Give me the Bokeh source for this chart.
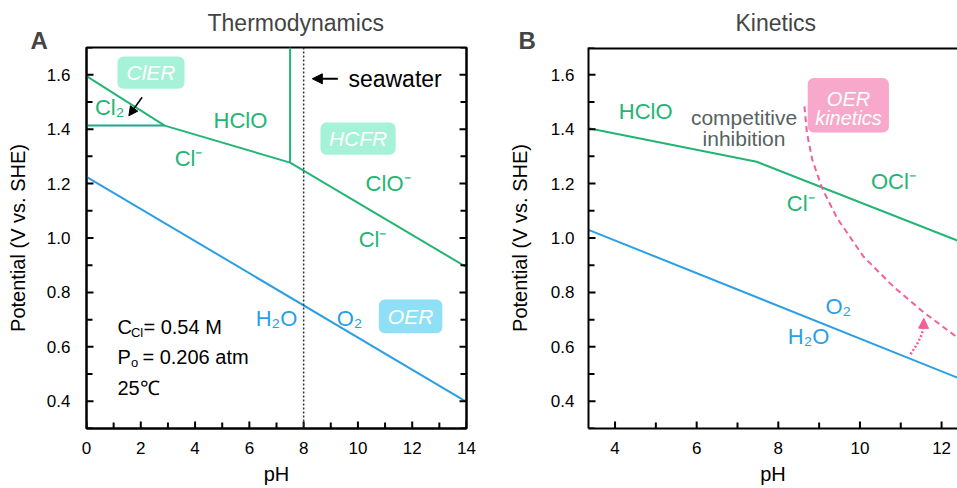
import math
from bokeh.plotting import figure
from bokeh.layouts import row
from bokeh.models import (Range1d, FixedTicker, LinearAxis, BoxAnnotation, Arrow,
                          NormalHead, Title, Span, NumeralTickFormatter)
from bokeh.core.properties import value
from bokeh.embed import file_html
from bokeh.resources import INLINE

FONT = "Liberation Sans"
GREEN = "#22b573"
TEAL = "#1fa78c"
BLUE = "#2b9fe3"
PINK = "#f2609c"
MINT = "#a6f2d8"
SKY = "#8fdff6"
ROSE = "#f8a8ca"

# ---------------- data ----------------
a_xlim = [0, 14]
b_xlim = [3.35, 12.39]
ylim = [0.3, 1.7]
y_ticks = [0.4, 0.6, 0.8, 1.0, 1.2, 1.4, 1.6]
y_minor = [0.3, 0.5, 0.7, 0.9, 1.1, 1.3, 1.5, 1.7]
a_x_ticks = [0, 2, 4, 6, 8, 10, 12, 14]
a_x_minor = [1, 3, 5, 7, 9, 11, 13]
b_x_ticks = [4, 6, 8, 10, 12]
b_x_minor = [5, 7, 9, 11]

# Panel A: Pourbaix boundaries
a_cl2_upper_ph = [0.0, 2.88]
a_cl2_upper_v = [1.595, 1.413]
a_cl2_lower_ph = [0.0, 2.88]
a_cl2_lower_v = [1.413, 1.413]
a_hclo_cl_ph = [2.88, 7.5]
a_hclo_cl_v = [1.413, 1.277]
a_hclo_clo_ph = [7.5, 7.5]
a_hclo_clo_v = [1.277, 1.70]
a_clo_cl_ph = [7.5, 14.0]
a_clo_cl_v = [1.277, 0.893]
a_o2_ph = [0.0, 14.0]
a_o2_v = [1.225, 0.398]
seawater_ph = 8.0

# Panel B
b_cl_ph = [3.35, 7.47, 12.4]
b_cl_v = [1.403, 1.28, 0.99]
b_o2_ph = [3.35, 12.4]
b_o2_v = [1.03, 0.486]
b_oer_ph = [8.64, 8.70, 8.83, 9.07, 9.44, 10.09, 10.83, 11.56, 12.39]
b_oer_v = [1.484, 1.388, 1.289, 1.184, 1.073, 0.931, 0.820, 0.727, 0.634]
b_shift_ph = [11.24, 11.40, 11.52, 11.56]
b_shift_v = [0.573, 0.610, 0.647, 0.678]

# boxes: (left, right, bottom, top, label, colour)
a_boxes = [(1.14, 3.61, 1.548, 1.667, "ClER", MINT),
           (8.62, 11.39, 1.306, 1.424, "HCFR", MINT),
           (10.77, 13.11, 0.650, 0.774, "OER", SKY)]
b_box = (8.72, 10.71, 1.388, 1.588, ROSE)


def style_axis(ax, ticks, minor, fmt, labels=True):
    ax.ticker = FixedTicker(ticks=ticks, minor_ticks=minor)
    ax.formatter = NumeralTickFormatter(format=fmt)
    ax.axis_line_width = 2
    ax.axis_line_color = "black"
    ax.major_tick_in = 0
    ax.major_tick_out = 0
    ax.minor_tick_in = 0
    ax.minor_tick_out = 0
    ax.major_label_text_font = FONT
    ax.major_label_text_font_size = "17px"
    ax.major_label_text_color = "black" if labels else None
    ax.axis_label_text_font = FONT
    ax.axis_label_text_font_size = "20px"
    ax.axis_label_text_font_style = "normal"
    ax.axis_label_text_color = "black"


def make_fig(width, xlim, xt, xm, letter, letter_offset, title, offset, left, right):
    p = figure(width=width, height=488, x_range=Range1d(*xlim), y_range=Range1d(*ylim),
               output_backend="svg", toolbar_location=None,
               min_border_left=left, min_border_right=right,
               min_border_top=47, min_border_bottom=60)
    p.title = None
    # panel letter (closest to the frame), then the panel title above it
    p.add_layout(Title(text=letter, text_font=FONT, text_font_size="24px",
                       text_font_style="bold", align="left", offset=letter_offset,
                       standoff=-12), "above")
    p.add_layout(Title(text=title, text_font=FONT, text_font_size="23px",
                       text_font_style="normal", align="left", offset=offset,
                       standoff=-11), "above")
    p.xgrid.grid_line_color = None
    p.ygrid.grid_line_color = None
    p.xaxis.axis_label = "pH"
    p.yaxis.axis_label = "Potential (V vs. SHE)"
    style_axis(p.xaxis[0], xt, xm, "0")
    style_axis(p.yaxis[0], y_ticks, y_minor, "0.0")
    p.xaxis.major_label_standoff = 13
    p.xaxis.axis_label_standoff = 6
    p.background_fill_color = "white"
    p.border_fill_color = "white"
    return p


def edge_ticks(p, x_edges, xt, xm):
    # inward-pointing ticks: dash markers centred on the frame edge (outer half is clipped)
    for x0 in x_edges:
        p.scatter(x=[x0] * len(y_ticks), y=y_ticks, marker="dash", size=14,
                  line_color="black", line_width=2)
        p.scatter(x=[x0] * len(y_minor), y=y_minor, marker="dash", size=12,
                  line_color="black", line_width=2)
    p.scatter(x=xt, y=[ylim[0]] * len(xt), marker="dash", angle=math.pi / 2, size=14,
              line_color="black", line_width=2)
    p.scatter(x=xm, y=[ylim[0]] * len(xm), marker="dash", angle=math.pi / 2, size=12,
              line_color="black", line_width=2)


def txt(p, x, y, s, color, size="22px", style="normal", align="center", xo=0, yo=0):
    p.text(x=[x], y=[y], text=[s], text_color=color, text_font=value(FONT),
           text_font_size=size, text_font_style=style, text_align=align,
           text_baseline="middle", x_offset=xo, y_offset=yo)


# ---------------- Panel A ----------------
pa = make_fig(500, a_xlim, a_x_ticks, a_x_minor, "A", -56, "Thermodynamics", 121, 86, 34)
pa.yaxis.major_label_standoff = 16
pa.yaxis.axis_label_standoff = 15
pa.outline_line_color = "black"
pa.outline_line_width = 2
ra = LinearAxis()
style_axis(ra, y_ticks, y_minor, "0.0", labels=False)
pa.add_layout(ra, "right")

for (l, r, b, t, s, c) in a_boxes:
    pa.add_layout(BoxAnnotation(left=l, right=r, bottom=b, top=t, fill_color=c,
                                fill_alpha=1, line_color=None, border_radius=6, level="underlay"))
    txt(pa, (l + r) / 2, (b + t) / 2, s, "white", size="21px", style="italic")

pa.add_layout(Span(location=seawater_ph, dimension="height", line_color="#333333",
                   line_width=1.5, line_dash="2 2"))
pa.line(a_cl2_upper_ph, a_cl2_upper_v, line_color=GREEN, line_width=2)
pa.line(a_cl2_lower_ph, a_cl2_lower_v, line_color=TEAL, line_width=2)
pa.line(a_hclo_cl_ph, a_hclo_cl_v, line_color=GREEN, line_width=2)
pa.line(a_hclo_clo_ph, a_hclo_clo_v, line_color=GREEN, line_width=2)
pa.line(a_clo_cl_ph, a_clo_cl_v, line_color=GREEN, line_width=2)
pa.line(a_o2_ph, a_o2_v, line_color=BLUE, line_width=2)
edge_ticks(pa, a_xlim, a_x_ticks, a_x_minor)

txt(pa, 0.85, 1.481, "Cl₂", GREEN)
pa.add_layout(Arrow(end=NormalHead(size=9, fill_color="black", line_color="black"),
                    x_start=2.05, y_start=1.517, x_end=1.56, y_end=1.449,
                    line_color="black", line_width=1.5))
txt(pa, 5.67, 1.431, "HClO", GREEN)
txt(pa, 3.76, 1.293, "Cl⁻", GREEN)
txt(pa, 11.11, 1.200, "ClO⁻", GREEN)
txt(pa, 10.54, 0.996, "Cl⁻", GREEN)
txt(pa, 7.0, 0.705, "H₂O", BLUE)
txt(pa, 9.69, 0.705, "O₂", BLUE)
pa.add_layout(Arrow(end=NormalHead(size=10, fill_color="black", line_color="black"),
                    x_start=9.26, y_start=1.585, x_end=8.32, y_end=1.585,
                    line_color="black", line_width=2))
txt(pa, 9.65, 1.585, "seawater", "black", size="23px", align="left")

txt(pa, 1.14, 0.672, "C", "black", size="20px", align="left")
txt(pa, 1.14, 0.672, "Cl", "black", size="13px", align="left", xo=13.5, yo=5)
txt(pa, 1.14, 0.672, "= 0.54 M", "black", size="20px", align="left", xo=26)
txt(pa, 1.14, 0.564, "P", "black", size="20px", align="left")
txt(pa, 1.14, 0.564, "o", "black", size="13px", align="left", xo=13.5, yo=6)
txt(pa, 1.14, 0.564, "= 0.206 atm", "black", size="20px", align="left", xo=25)
txt(pa, 1.14, 0.449, "25℃", "black", size="20px", align="left")

# ---------------- Panel B ----------------
pb = make_fig(457, b_xlim, b_x_ticks, b_x_minor, "B", -70, "Kinetics", 147, 88, 0)
pb.yaxis.major_label_standoff = 14
pb.yaxis.axis_label_standoff = 17
pb.outline_line_color = None
pb.add_layout(Span(location=ylim[1], dimension="width", line_color="black", line_width=4))

l, r, b, t, c = b_box
pb.add_layout(BoxAnnotation(left=l, right=r, bottom=b, top=t, fill_color=c, fill_alpha=1,
                            line_color=None, border_radius=6, level="underlay"))
txt(pb, 9.72, 1.509, "OER", "white", size="20px", style="italic")
txt(pb, 9.72, 1.440, "kinetics", "white", size="20px", style="italic")

pb.line(b_cl_ph, b_cl_v, line_color=GREEN, line_width=2)
pb.line(b_o2_ph, b_o2_v, line_color=BLUE, line_width=2)
pb.line(b_oer_ph, b_oer_v, line_color=PINK, line_width=2, line_dash="6 4")
pb.line(b_shift_ph, b_shift_v, line_color=PINK, line_width=2.5, line_dash="2 2")
pb.add_layout(Arrow(end=NormalHead(size=10, fill_color=PINK, line_color=PINK),
                    x_start=b_shift_ph[-1], y_start=b_shift_v[-1],
                    x_end=b_shift_ph[-1] + 0.005, y_end=0.705, line_color=None))
edge_ticks(pb, [b_xlim[0]], b_x_ticks, b_x_minor)

txt(pb, 4.75, 1.465, "HClO", GREEN)
txt(pb, 7.16, 1.441, "competitive", "#56625f", size="21px")
txt(pb, 7.16, 1.365, "inhibition", "#56625f", size="21px")
txt(pb, 10.82, 1.209, "OCl⁻", GREEN)
txt(pb, 8.55, 1.128, "Cl⁻", GREEN)
txt(pb, 9.47, 0.750, "O₂", BLUE)
txt(pb, 8.74, 0.637, "H₂O", BLUE)

layout = row(pa, pb)
open("out.html", "w").write(file_html(layout, INLINE))
